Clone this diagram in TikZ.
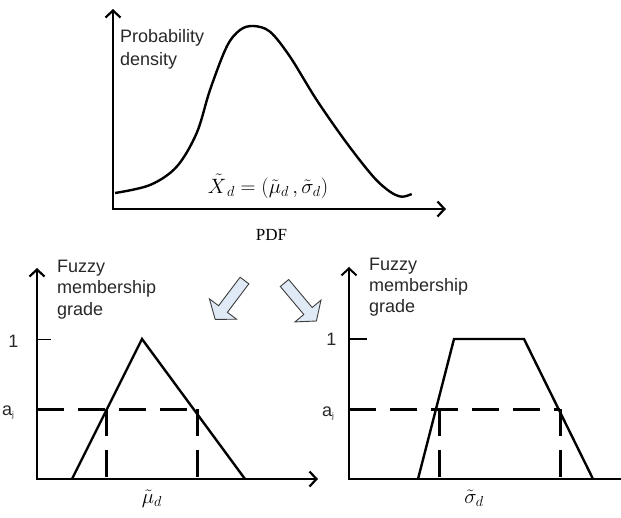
\documentclass[tikz,border=0pt]{standalone}
\usepackage{fontspec}
\setmainfont{Liberation Sans}
\newfontfamily\tms{Liberation Serif}
\usetikzlibrary{arrows.meta}
\definecolor{arrowfill}{RGB}{224,233,246}
\definecolor{arrowdraw}{RGB}{60,60,60}
\definecolor{labelgray}{RGB}{40,40,40}
\begin{document}
\begin{tikzpicture}[x=1pt,y=-1pt,
  barb/.tip={Straight Barb[length=7pt,width=15pt]},
  axes/.style={line width=2.2pt, line join=miter},
  fz/.style={line width=2.4pt, line join=miter},
  dsh/.style={line width=3pt, dash pattern=on 27pt off 14pt},
  lbl/.style={font=\fontsize{18}{20}\selectfont, anchor=base west, inner sep=0pt, text=labelgray},
  blk/.style={fill=arrowfill, draw=arrowdraw, line width=0.9pt, line join=miter}
]
\useasboundingbox (0,0) rectangle (621,517);

% ---------- top PDF chart ----------
\coordinate (y1) at (113,9);
\coordinate (o1) at (113,209);
\coordinate (x1) at (446,209);
\draw[axes, barb-barb] (y1) -- (o1) -- (x1);
\draw[line width=2.4pt] plot[smooth, tension=0.55] coordinates {(115,193) (150,185) (176.7,166.7) (196.7,133) (210,90) (226.7,46.7) (240,30) (253.3,26) (270,31.7) (290,56.7) (316.7,100) (346.7,143) (373.3,176.7) (390,191.7) (401.7,196.7) (411.7,194)};
\node[lbl] (prob) at (120,42.5) {Probability};
\node[lbl] (dens) at (120,65) {density};
\node[anchor=base, inner sep=0pt, font=\fontsize{22}{24}\selectfont] (fml) at (268,193) {$\tilde{X}_{\,d} = (\tilde{\mu}_{d}\,, \tilde{\sigma}_{d})$};
\node[anchor=base, inner sep=0pt, font=\tms\fontsize{17}{20}\selectfont] (pdf) at (271.5,240) {PDF};

% ---------- block arrows ----------
\draw[blk] (248.9,283.8) -- (240.1,277.2) -- (218.6,305.7) -- (209.4,298.8) -- (215.2,319.4) -- (236.6,319.2) -- (227.4,312.3) -- cycle;
\draw[blk] (288.7,279.5) -- (280.3,286.5) -- (303.8,314.5) -- (295.0,321.9) -- (316.4,321.0) -- (321.0,300.1) -- (312.2,307.5) -- cycle;

% ---------- left fuzzy chart ----------
\coordinate (ly) at (37,268);
\coordinate (lo) at (37,479);
\coordinate (lx) at (318,479);
\draw[axes, barb-barb] (ly) -- (lo) -- (lx);
\draw[line width=1pt] (37,339) -- (51,339);
\draw[fz] (72,479) -- (142,339) -- (245,479);
\draw[dsh] (37,409) -- (197,409);
\draw[dsh] (106,409) -- (106,479);
\draw[dsh] (197,409) -- (197,479);
\node[lbl] (fl1) at (57,272) {Fuzzy};
\node[lbl] (fl2) at (57,293.5) {membership};
\node[lbl] (fl3) at (57,315) {grade};
\node[lbl, anchor=base] (onel) at (13.5,347) {1};
\node[lbl] (ajl) at (2,415) {a{\fontsize{8}{8}\selectfont\raisebox{-2pt}{j}}};
\node[anchor=base, inner sep=0pt, font=\fontsize{20}{22}\selectfont] (mu) at (152,503) {$\tilde{\mu}_{d}$};

% ---------- right fuzzy chart ----------
\coordinate (ry) at (349,267);
\coordinate (ro) at (349,479);
\coordinate (rx) at (621,479);
\draw[axes, line width=2pt, barb-] (ry) -- (ro) -- (rx);
\draw[line width=2.4pt] (349,339) -- (367,339);
\draw[fz] (418,479) -- (454,339) -- (524,339) -- (593,479);
\draw[dsh] (349,409) -- (560,409);
\draw[dsh] (439,409) -- (439,479);
\draw[dsh] (560,409) -- (560,479);
\node[lbl] (fr1) at (369,270) {Fuzzy};
\node[lbl] (fr2) at (369,291) {membership};
\node[lbl] (fr3) at (369,312) {grade};
\node[lbl, anchor=base] (oner) at (331.5,345) {1};
\node[lbl] (ajr) at (322,416.5) {a{\fontsize{8}{8}\selectfont\raisebox{-2pt}{j}}};
\node[anchor=base, inner sep=0pt, font=\fontsize{20}{22}\selectfont] (sig) at (474,503) {$\tilde{\sigma}_{d}$};
\end{tikzpicture}
\end{document}
